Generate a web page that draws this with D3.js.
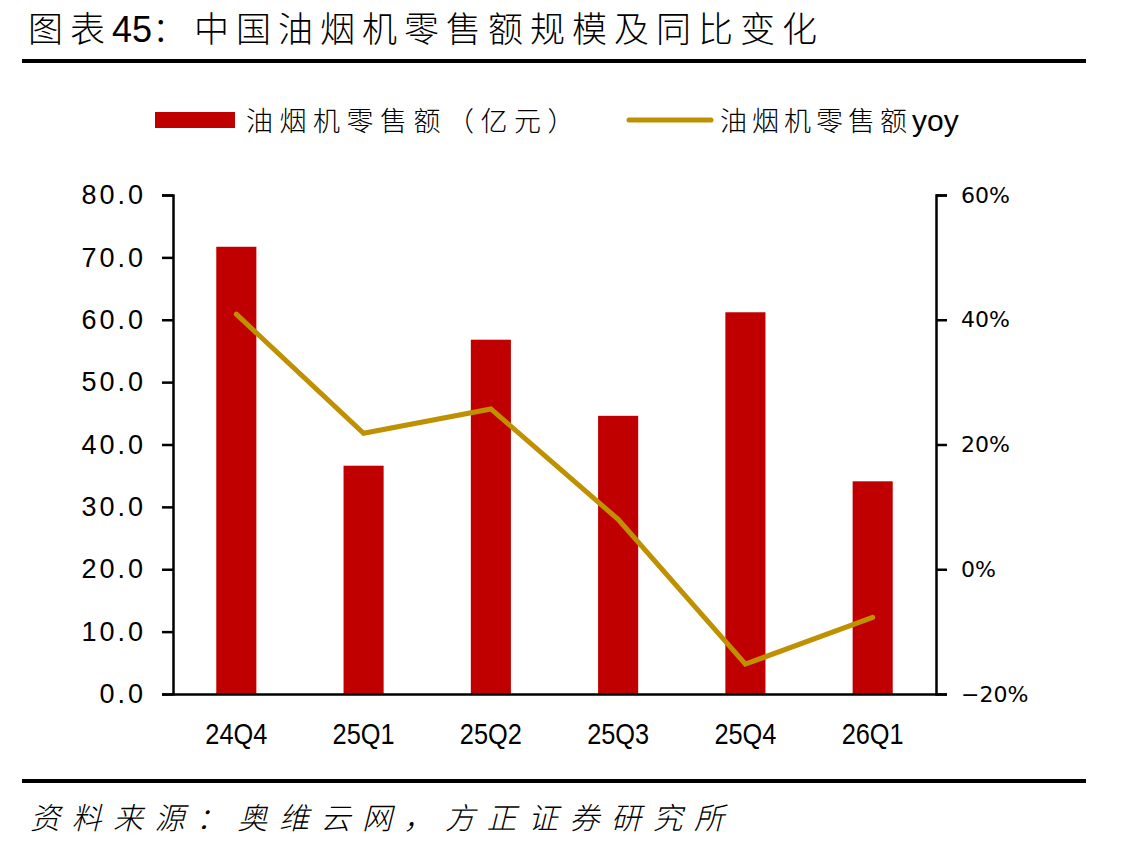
<!DOCTYPE html>
<html>
<head>
<meta charset="utf-8">
<script src="https://cdn.jsdelivr.net/npm/d3@7/dist/d3.min.js"></script>
<style>
  html, body { margin: 0; padding: 0; background: #fff; }
  svg { display: block; }
</style>
</head>
<body>
<div id="chart"></div>
<script>
// Data
const categories = ["24Q4", "25Q1", "25Q2", "25Q3", "25Q4", "26Q1"];
const salesValues = [71.7, 36.6, 56.8, 44.6, 61.2, 34.1];   // 亿元
const yoyValues = [40.9, 21.8, 25.7, 8.0, -15.2, -7.7];     // %
const leftTicks = [0, 10, 20, 30, 40, 50, 60, 70, 80];
const rightTicks = [-20, 0, 20, 40, 60];

const W = 1132, H = 850;
const BAR_COLOR = "#C00000";
const LINE_COLOR = "#BF9000";
const CJK = "'Noto Sans CJK SC', sans-serif";
const NUM = "'Liberation Sans', Arial, sans-serif";

const svg = d3.select("#chart").append("svg").attr("width", W).attr("height", H);

// plot area
const x0 = 173, x1 = 936, yTop = 195, yBot = 694;

const x = d3.scaleBand().domain(categories).range([x0, x1]).paddingInner(0.685).paddingOuter(0.34);
const yL = d3.scaleLinear().domain([0, 80]).range([yBot, yTop]);
const yR = d3.scaleLinear().domain([-20, 60]).range([yBot, yTop]);

// title + rules
const title = svg.append("text").attr("x", 28).attr("y", 42)
  .attr("font-family", CJK).attr("font-size", 35).attr("font-weight", 300).attr("fill", "#000");
title.append("tspan").attr("letter-spacing", 7).text("图表");
title.append("tspan").attr("font-family", NUM).attr("font-size", 36).text("45");
title.append("tspan").attr("letter-spacing", 7).text("：中国油烟机零售额规模及同比变化");

svg.append("line").attr("x1", 22).attr("x2", 1086).attr("y1", 61).attr("y2", 61)
  .attr("stroke", "#000").attr("stroke-width", 4);
svg.append("line").attr("x1", 22).attr("x2", 1086).attr("y1", 781).attr("y2", 781)
  .attr("stroke", "#000").attr("stroke-width", 4);
svg.append("text").attr("x", 30).attr("y", 829)
  .attr("font-family", CJK).attr("font-size", 30).attr("font-weight", 300)
  .attr("font-style", "italic").attr("letter-spacing", 11.5).attr("fill", "#000")
  .text("资料来源：奥维云网，方正证券研究所");

// legend
const lg = svg.append("g");
lg.append("rect").attr("x", 155).attr("y", 112).attr("width", 80).attr("height", 16).attr("fill", BAR_COLOR);
lg.append("text").attr("x", 246).attr("y", 131)
  .attr("font-family", CJK).attr("font-size", 27).attr("font-weight", 300)
  .attr("letter-spacing", 6.5).text("油烟机零售额（亿元）");
lg.append("line").attr("x1", 629).attr("x2", 711).attr("y1", 120).attr("y2", 120)
  .attr("stroke", LINE_COLOR).attr("stroke-width", 5).attr("stroke-linecap", "round");
const lt = lg.append("text").attr("x", 720).attr("y", 131)
  .attr("font-family", CJK).attr("font-size", 27).attr("font-weight", 300);
lt.append("tspan").attr("letter-spacing", 5).text("油烟机零售额");
lt.append("tspan").attr("font-family", NUM).attr("font-size", 30).text("yoy");

// bars
svg.append("g").selectAll("rect").data(categories).join("rect")
  .attr("x", d => x(d))
  .attr("width", x.bandwidth())
  .attr("y", (d, i) => yL(salesValues[i]))
  .attr("height", (d, i) => yL(0) - yL(salesValues[i]))
  .attr("fill", BAR_COLOR);

// yoy line
const line = d3.line()
  .x((d, i) => x(categories[i]) + x.bandwidth() / 2)
  .y(d => yR(d));
svg.append("path").datum(yoyValues)
  .attr("d", line)
  .attr("fill", "none").attr("stroke", LINE_COLOR)
  .attr("stroke-width", 5).attr("stroke-linejoin", "miter").attr("stroke-linecap", "round");

// left axis
const axL = svg.append("g").attr("transform", `translate(${x0},0)`)
  .call(d3.axisLeft(yL).tickValues(leftTicks).tickFormat(d3.format(".1f")).tickSize(11).tickPadding(16));
axL.select(".domain").attr("stroke", "#000").attr("stroke-width", 2.5);
axL.selectAll(".tick line").attr("stroke", "#000").attr("stroke-width", 2.5);
axL.selectAll("text").attr("font-family", NUM).attr("font-size", 27)
  .attr("letter-spacing", 3).attr("fill", "#000");

// right axis
const axR = svg.append("g").attr("transform", `translate(${x1},0)`)
  .call(d3.axisRight(yR).tickValues(rightTicks).tickFormat(d => d3.format("d")(d) + "%").tickSize(11).tickPadding(14));
axR.select(".domain").attr("stroke", "#000").attr("stroke-width", 2.5);
axR.selectAll(".tick line").attr("stroke", "#000").attr("stroke-width", 2.5);
axR.selectAll("text").attr("font-family", "'DejaVu Sans', sans-serif").attr("font-size", 22).attr("fill", "#000");

// bottom axis — condensed labels
const axB = svg.append("g").attr("transform", `translate(0,${yBot})`)
  .call(d3.axisBottom(x).tickSize(0).tickPadding(29));
axB.select(".domain").attr("stroke", "#000").attr("stroke-width", 2.5);
axB.selectAll("text")
  .attr("font-family", NUM).attr("font-size", 30).attr("fill", "#000")
  .attr("textLength", 62).attr("lengthAdjust", "spacingAndGlyphs");
</script>
</body>
</html>
